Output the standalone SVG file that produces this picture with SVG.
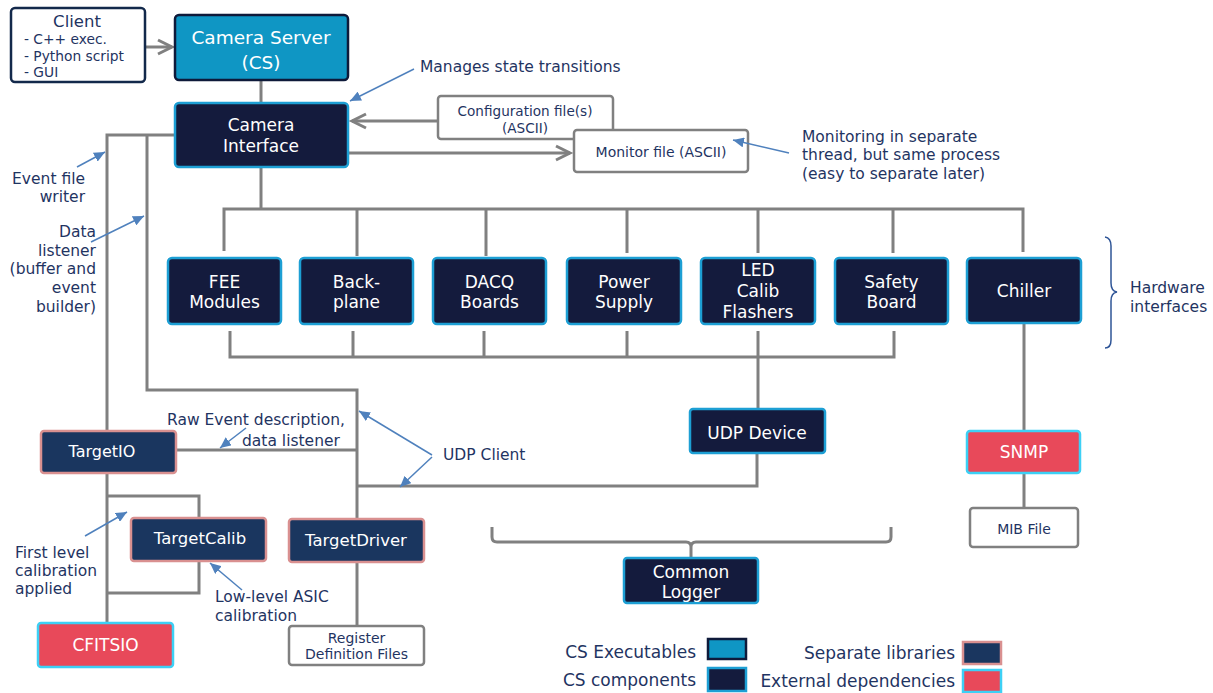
<svg xmlns="http://www.w3.org/2000/svg" width="1213" height="693" viewBox="0 0 1213 693">
<defs>
<style>
text{font-family:"DejaVu Sans","Liberation Sans",sans-serif;}
.ann{fill:#1f3462;font-size:15.5px;}
.wt{fill:#ffffff;}
.nt{fill:#1f3462;}
.ln{fill:none;stroke:#808080;stroke-width:3;}
.ar{fill:none;stroke:#4f81bd;stroke-width:1.5;marker-end:url(#ba);}
.exe{fill:#0f96c4;stroke:#0e1a3a;stroke-width:2.5;}
.cmp{fill:#141b3d;stroke:#1d9fd4;stroke-width:2.5;}
.lib{fill:#1a365f;stroke:#d99090;stroke-width:2.5;}
.ext{fill:#e8495a;stroke:#3dd0f5;stroke-width:2.5;}
.fil{fill:#ffffff;stroke:#808080;stroke-width:2.5;}
</style>
<marker id="ba" markerUnits="userSpaceOnUse" markerWidth="12" markerHeight="10" refX="11" refY="5" orient="auto">
<path d="M0,0 L11,5 L0,10 Z" fill="#4f81bd"/>
</marker>
<marker id="ch" markerUnits="userSpaceOnUse" markerWidth="20" markerHeight="18" refX="15" refY="9" orient="auto">
<path d="M1,2 L15,9 L1,16" fill="none" stroke="#808080" stroke-width="3"/>
</marker>
</defs>
<rect width="1213" height="693" fill="#ffffff"/>

<g id="connectors">
<path class="ln" d="M145,47 L172,47" marker-end="url(#ch)"/>
<path class="ln" d="M261,80 L261,103"/>
<path class="ln" d="M438,121 L352,121" marker-end="url(#ch)"/>
<path class="ln" d="M348,153 L570,153" marker-end="url(#ch)"/>
<path class="ln" d="M175,135 L107,135 L107,431"/>
<path class="ln" d="M147,135 L147,390 L357,390 L357,519"/>
<path class="ln" d="M261,167 L261,209"/>
<path class="ln" d="M224,251 L224,209 L1023,209 L1023,252"/>
<path class="ln" d="M357,209 L357,256 M486,209 L486,256 M627,209 L627,253 M758,209 L758,253 M893,209 L893,253"/>
<path class="ln" d="M230,331 L230,357 L894,357 L894,331 M353,331 L353,357 M484,331 L484,357 M627,331 L627,357"/>
<path class="ln" d="M758,331 L758,409"/>
<path class="ln" d="M757,453 L757,486 L357,486"/>
<path class="ln" d="M176,450 L357,450"/>
<path class="ln" d="M1024,323 L1024,431 M1024,473 L1024,508"/>
<path class="ln" d="M107,473 L107,623 M107,496 L199,496 L199,518 M199,561 L199,593 L107,593"/>
<path class="ln" d="M357,562 L357,626"/>
<path class="ln" d="M492,527 L492,537 Q492,542 497,542 L686,542 Q691,542 691,547 L691,558 M691,547 Q691,542 696,542 L886,542 Q891,542 891,537 L891,527"/>
<path d="M1105,237 Q1111,238 1111,246 L1111,283 Q1111,291 1117,292 Q1111,293 1111,301 L1111,340 Q1111,348 1105,348" fill="none" stroke="#2f5597" stroke-width="1.5"/>
</g>

<g id="client">
<rect x="11" y="8" width="134" height="74" rx="4" fill="#ffffff" stroke="#13294b" stroke-width="2.5"/>
<text x="77" y="27" class="nt" font-size="16.5" text-anchor="middle">Client</text>
<text x="24" y="44" class="nt" font-size="13.8">- C++ exec.</text>
<text x="24" y="61" class="nt" font-size="13.8">- Python script</text>
<text x="24" y="77" class="nt" font-size="13.8">- GUI</text>
</g>
<g id="camera-server">
<rect x="175" y="15" width="173" height="65" rx="4" class="exe"/>
<text x="261" y="44" class="wt" font-size="18.5" text-anchor="middle">Camera Server</text>
<text x="261" y="69" class="wt" font-size="18.5" text-anchor="middle">(CS)</text>
</g>
<g id="camera-interface">
<rect x="175" y="103" width="173" height="64" rx="4" class="cmp"/>
<text x="261" y="131" class="wt" font-size="17" text-anchor="middle">Camera</text>
<text x="261" y="152" class="wt" font-size="17" text-anchor="middle">Interface</text>
</g>
<g id="config-file">
<rect x="438" y="96" width="175" height="43" rx="3" class="fil"/>
<text x="525" y="115.5" class="nt" font-size="13.6" text-anchor="middle">Configuration file(s)</text>
<text x="525" y="132.5" class="nt" font-size="13.6" text-anchor="middle">(ASCII)</text>
</g>
<g id="monitor-file">
<rect x="574" y="130" width="174" height="42" rx="3" class="fil"/>
<text x="661" y="157" class="nt" font-size="14" text-anchor="middle">Monitor file (ASCII)</text>
</g>

<g id="fee">
<rect x="168" y="258" width="113" height="66" rx="4" class="cmp"/>
<text x="224.5" y="288" class="wt" font-size="17" text-anchor="middle">FEE</text>
<text x="224.5" y="308" class="wt" font-size="17" text-anchor="middle">Modules</text>
</g>
<g id="backplane">
<rect x="300" y="258" width="113" height="66" rx="4" class="cmp"/>
<text x="356.5" y="288" class="wt" font-size="17" text-anchor="middle">Back-</text>
<text x="356.5" y="308" class="wt" font-size="17" text-anchor="middle">plane</text>
</g>
<g id="dacq">
<rect x="433" y="258" width="113" height="66" rx="4" class="cmp"/>
<text x="489.5" y="288" class="wt" font-size="17" text-anchor="middle">DACQ</text>
<text x="489.5" y="308" class="wt" font-size="17" text-anchor="middle">Boards</text>
</g>
<g id="power">
<rect x="567" y="258" width="114" height="66" rx="4" class="cmp"/>
<text x="624" y="288" class="wt" font-size="17" text-anchor="middle">Power</text>
<text x="624" y="308" class="wt" font-size="17" text-anchor="middle">Supply</text>
</g>
<g id="led">
<rect x="701" y="258" width="114" height="66" rx="4" class="cmp"/>
<text x="758" y="276" class="wt" font-size="17" text-anchor="middle">LED</text>
<text x="758" y="297" class="wt" font-size="17" text-anchor="middle">Calib</text>
<text x="758" y="318" class="wt" font-size="17" text-anchor="middle">Flashers</text>
</g>
<g id="safety">
<rect x="835" y="258" width="113" height="66" rx="4" class="cmp"/>
<text x="891.5" y="288" class="wt" font-size="17" text-anchor="middle">Safety</text>
<text x="891.5" y="308" class="wt" font-size="17" text-anchor="middle">Board</text>
</g>
<g id="chiller">
<rect x="967" y="258" width="114" height="65" rx="4" class="cmp"/>
<text x="1024" y="297" class="wt" font-size="17" text-anchor="middle">Chiller</text>
</g>
<g id="udp-device">
<rect x="690" y="409" width="135" height="44" rx="3" class="cmp"/>
<text x="757" y="439" class="wt" font-size="17" text-anchor="middle">UDP Device</text>
</g>
<g id="snmp">
<rect x="967" y="431" width="113" height="42" rx="3" class="ext"/>
<text x="1024" y="458" class="wt" font-size="17" text-anchor="middle">SNMP</text>
</g>
<g id="mib">
<rect x="970" y="508" width="108" height="39" rx="3" class="fil"/>
<text x="1024" y="534" class="nt" font-size="14" text-anchor="middle">MIB File</text>
</g>
<g id="targetio">
<rect x="41" y="431" width="135" height="42" rx="3" class="lib"/>
<text x="102" y="457" class="wt" font-size="16" text-anchor="middle">TargetIO</text>
</g>
<g id="targetcalib">
<rect x="131" y="518" width="135" height="43" rx="3" class="lib"/>
<text x="200" y="544" class="wt" font-size="16.5" text-anchor="middle">TargetCalib</text>
</g>
<g id="targetdriver">
<rect x="289" y="519" width="135" height="43" rx="3" class="lib"/>
<text x="356" y="546" class="wt" font-size="16.5" text-anchor="middle">TargetDriver</text>
</g>
<g id="cfitsio">
<rect x="38" y="623" width="135" height="44" rx="3" class="ext"/>
<text x="105.5" y="651" class="wt" font-size="17" text-anchor="middle">CFITSIO</text>
</g>
<g id="register-files">
<rect x="289" y="626" width="135" height="39" rx="3" class="fil"/>
<text x="356.5" y="643" class="nt" font-size="14" text-anchor="middle">Register</text>
<text x="356.5" y="659" class="nt" font-size="14" text-anchor="middle">Definition Files</text>
</g>
<g id="common-logger">
<rect x="624" y="558" width="134" height="45" rx="3" class="cmp"/>
<text x="691" y="578" class="wt" font-size="17" text-anchor="middle">Common</text>
<text x="691" y="598" class="wt" font-size="17" text-anchor="middle">Logger</text>
</g>

<g id="annotation-arrows">
<path class="ar" d="M414,69 L350,101"/>
<path class="ar" d="M789,153 L733,140"/>
<path class="ar" d="M77,167 L105,152"/>
<path class="ar" d="M91,242 L144,216"/>
<path class="ar" d="M246,428 L220,448"/>
<path class="ar" d="M432,455 L359,411"/>
<path class="ar" d="M432,457 L400,487"/>
<path class="ar" d="M85,536 L127,512"/>
<path class="ar" d="M242,590 L210,563"/>
</g>

<g id="annotations">
<text x="420" y="72" class="ann">Manages state transitions</text>
<text x="802" y="142" class="ann">Monitoring in separate</text>
<text x="802" y="160" class="ann">thread, but same process</text>
<text x="802" y="179" class="ann">(easy to separate later)</text>
<text x="85" y="184" class="ann" text-anchor="end">Event file</text>
<text x="85" y="202" class="ann" text-anchor="end">writer</text>
<text x="96" y="237" class="ann" text-anchor="end">Data</text>
<text x="96" y="256" class="ann" text-anchor="end">listener</text>
<text x="96" y="274" class="ann" text-anchor="end">(buffer and</text>
<text x="96" y="293" class="ann" text-anchor="end">event</text>
<text x="96" y="312" class="ann" text-anchor="end">builder)</text>
<text x="1130" y="293" class="ann">Hardware</text>
<text x="1130" y="312" class="ann">interfaces</text>
<text x="167" y="425" class="ann">Raw Event description,</text>
<text x="242" y="446" class="ann">data listener</text>
<text x="443" y="460" class="ann">UDP Client</text>
<text x="15" y="558" class="ann">First level</text>
<text x="15" y="576" class="ann">calibration</text>
<text x="15" y="594" class="ann">applied</text>
<text x="215" y="602" class="ann">Low-level ASIC</text>
<text x="215" y="621" class="ann">calibration</text>
</g>

<g id="legend">
<text x="696" y="658" class="nt" font-size="17" text-anchor="end">CS Executables</text>
<rect x="708" y="639" width="38" height="20" class="exe"/>
<text x="696" y="686" class="nt" font-size="17" text-anchor="end">CS components</text>
<rect x="708" y="668" width="38" height="23" class="cmp"/>
<text x="955" y="659" class="nt" font-size="17" text-anchor="end">Separate libraries</text>
<rect x="963" y="642" width="38" height="22" class="lib"/>
<text x="955" y="687" class="nt" font-size="17" text-anchor="end">External dependencies</text>
<rect x="963" y="670" width="38" height="22" class="ext"/>
</g>
</svg>
